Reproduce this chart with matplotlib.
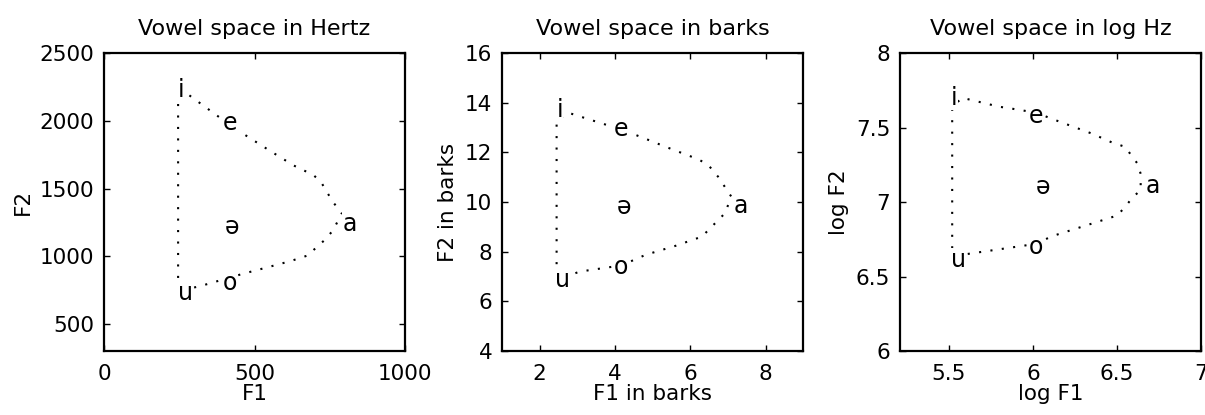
import matplotlib
matplotlib.use("Agg")
import matplotlib.pyplot as plt

# vowel labels and positions
vowels = ['i', 'e', 'ə', 'a', 'o', 'u']

hz_f1 = [256, 418, 425, 817, 418, 269]
hz_f2 = [2226, 1981, 1219, 1241, 804, 730]

bark_f1 = [2.53, 4.16, 4.24, 7.35, 4.17, 2.6]
bark_f2 = [13.7, 12.93, 9.8, 9.85, 7.4, 6.87]

log_f1 = [5.53, 6.02, 6.06, 6.71, 6.02, 5.56]
log_f2 = [7.70, 7.58, 7.10, 7.11, 6.70, 6.61]

# dotted vowel-space outline in each panel
hz_out_x = [246, 246, 276, 430, 550, 630, 695, 720, 760, 790, 760, 730, 675, 620, 545, 460, 320, 280]
hz_out_y = [840, 2190, 2200, 1950, 1780, 1670, 1600, 1550, 1400, 1320, 1190, 1115, 1005, 965, 920, 870, 780, 760]

bark_out_x = [2.45, 2.45, 2.8, 3.67, 4.16, 4.73, 5.34, 6.22, 6.48, 6.74, 7.09, 6.92, 6.53, 6.31, 5.61, 4.82, 4.17, 3.06, 2.7]
bark_out_y = [7.5, 13.3, 13.58, 13.16, 12.93, 12.6, 12.23, 11.72, 11.49, 11.02, 10.22, 9.55, 8.95, 8.61, 8.24, 7.88, 7.45, 7.2, 7.0]

log_out_x = [5.52, 5.52, 5.58, 5.80, 5.86, 6.02, 6.11, 6.23, 6.35, 6.47, 6.55, 6.58, 6.62, 6.64,
             6.64, 6.59, 6.55, 6.50, 6.39, 6.25, 6.11, 6.02, 5.90, 5.72, 5.60]
log_out_y = [6.69, 7.64, 7.70, 7.64, 7.63, 7.60, 7.56, 7.51, 7.46, 7.40, 7.37, 7.32, 7.26, 7.19,
             7.08, 7.03, 6.97, 6.91, 6.87, 6.82, 6.77, 6.72, 6.70, 6.67, 6.65]

panels = [
    dict(title='Vowel space in Hertz', xl='F1', yl='F2',
         vx=hz_f1, vy=hz_f2, ox=hz_out_x, oy=hz_out_y,
         xlim=(0, 1000), ylim=(300, 2500),
         xt=[0, 500, 1000], yt=[500, 1000, 1500, 2000, 2500],
         xtl=['0', '500', '1000'], ytl=['500', '1000', '1500', '2000', '2500']),
    dict(title='Vowel space in barks', xl='F1 in barks', yl='F2 in barks',
         vx=bark_f1, vy=bark_f2, ox=bark_out_x, oy=bark_out_y,
         xlim=(1, 9), ylim=(4, 16),
         xt=[2, 4, 6, 8], yt=[4, 6, 8, 10, 12, 14, 16],
         xtl=['2', '4', '6', '8'], ytl=['4', '6', '8', '10', '12', '14', '16']),
    dict(title='Vowel space in log Hz', xl='log F1', yl='log F2',
         vx=log_f1, vy=log_f2, ox=log_out_x, oy=log_out_y,
         xlim=(5.21, 7.0), ylim=(6, 8),
         xt=[5.5, 6, 6.5, 7], yt=[6, 6.5, 7, 7.5, 8],
         xtl=['5.5', '6', '6.5', '7'], ytl=['6', '6.5', '7', '7.5', '8']),
]

fig = plt.figure(figsize=(12.05, 4.15), dpi=100)
lefts = [0.0863, 0.4166, 0.7469]

for left, p in zip(lefts, panels):
    ax = fig.add_axes([left, 0.154, 0.25, 0.718])
    ax.plot(p['ox'], p['oy'], color='black', linewidth=1.5, linestyle=(0, (1, 4.5)))
    for v, x, y in zip(vowels, p['vx'], p['vy']):
        ax.text(x, y, v, ha='center', va='center', fontsize=17,
                bbox=dict(facecolor='white', edgecolor='none', pad=0.3))
    ax.set_xlim(p['xlim'])
    ax.set_ylim(p['ylim'])
    ax.set_xticks(p['xt'])
    ax.set_xticklabels(p['xtl'])
    ax.set_yticks(p['yt'])
    ax.set_yticklabels(p['ytl'])
    ax.tick_params(direction='in', top=True, right=True, length=4, width=1,
                   labelsize=15.5, pad=7)
    ax.tick_params(axis='x', pad=9)
    for s in ax.spines.values():
        s.set_linewidth(1.6)
    ax.set_title(p['title'], fontsize=16, pad=13)
    ax.set_xlabel(p['xl'], fontsize=15.5, labelpad=0)
    ax.set_ylabel(p['yl'], fontsize=15.5, labelpad=5)

fig.savefig('out.png', dpi=100)
